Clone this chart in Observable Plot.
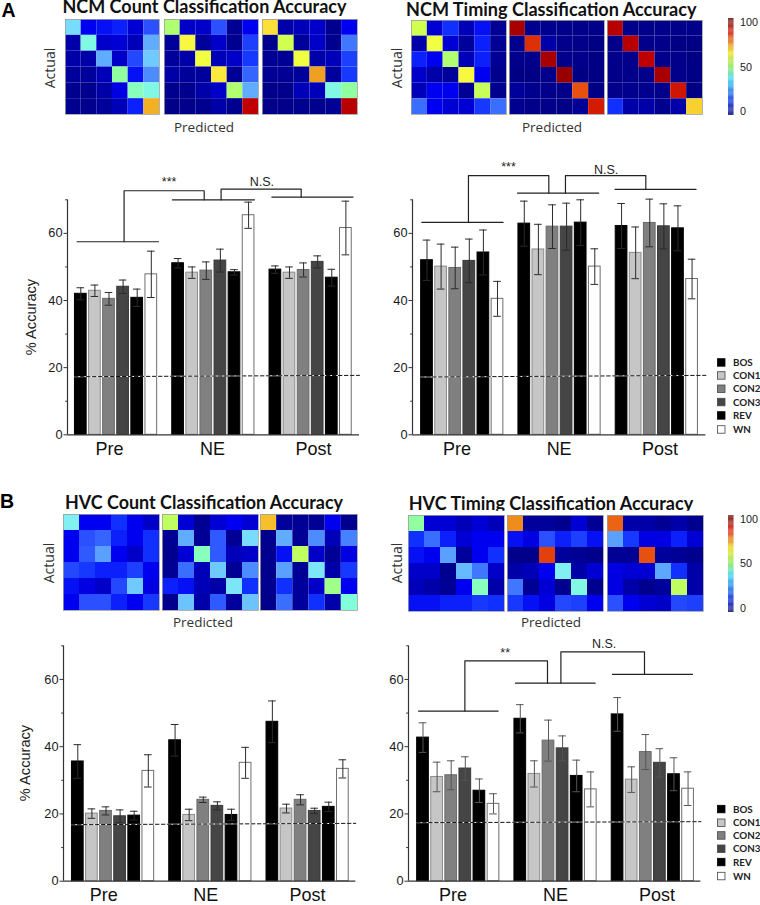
<!DOCTYPE html>
<html><head><meta charset="utf-8">
<script src="https://cdn.jsdelivr.net/npm/d3@7"></script>
<script src="https://cdn.jsdelivr.net/npm/@observablehq/plot@0.6"></script>
<style>
html,body{margin:0;padding:0;background:#fff;overflow:hidden}
#page{position:relative;width:760px;height:905px;overflow:hidden}
</style></head><body><div id="page"></div>
<script>
const groups = ["Pre","NE","Post"];
const conditions = ["BOS","CON1","CON2","CON3","REV","WN"];
const conditionFills = ["#000000","#c6c6c6","#808080","#454545","#000000","#ffffff"];
const conditionStrokes = ["#000000","#8a8a8a","#6a6a6a","#3a3a3a","#000000","#6e6e6e"];

const ncmCountMeans = [42.0,42.9,40.5,44.1,40.8,47.8, 51.1,48.3,48.9,51.9,48.4,65.4, 49.2,48.3,49.1,51.5,46.8,61.6];
const ncmCountErrs  = [1.8,1.7,1.9,2.0,2.6,6.9, 1.4,1.7,2.6,3.4,0.8,3.9, 1.1,1.7,2.1,1.8,2.5,8.0];
const ncmTimingMeans = [52.0,50.1,49.7,51.8,54.3,40.5, 62.9,55.2,62.0,62.0,63.2,50.1, 62.2,54.2,63.1,62.1,61.5,46.4];
const ncmTimingErrs  = [6.0,6.7,6.2,6.5,6.7,5.2, 6.7,7.5,6.5,7.0,6.8,5.3, 6.7,7.7,7.1,6.7,6.7,5.9];
const hvcCountMeans = [35.6,20.1,20.9,19.3,19.5,32.8, 41.9,19.7,24.2,22.4,19.7,35.2, 47.4,21.6,24.2,20.9,22.1,33.4];
const hvcCountErrs  = [5.0,1.4,1.2,1.9,1.3,4.8, 4.7,1.7,0.8,1.2,1.7,4.6, 6.2,1.3,1.5,0.8,1.4,2.7];
const hvcTimingMeans = [42.7,31.0,31.5,33.5,26.9,23.0, 48.3,31.9,41.8,39.5,31.3,27.3, 49.6,30.2,38.4,35.2,31.8,27.5];
const hvcTimingErrs  = [4.4,4.4,4.3,3.5,3.5,3.0, 4.2,3.9,6.1,3.7,4.7,5.2, 5.0,3.8,5.2,4.2,4.9,5.0];

// chance level (start, end)
const ncmCountChance = [17.3,17.7];
const ncmTimingChance = [17.2,17.7];
const hvcCountChance = [16.8,17.2];
const hvcTimingChance = [17.4,17.7];

// significance brackets, in bar-slot / % Accuracy units
const ncmCountBrackets = [[[-0.26,57.5],[5.51,57.5]],[[3.07,57.5],[3.07,72.7],[8.75,72.7],[8.75,70]],[[6.5,70],[12.32,70]],[[9.95,70],[9.95,73.2],[15.63,73.2],[15.63,70.8]],[[13.55,70.8],[19.31,70.8]]];
const ncmTimingBrackets = [[[-0.37,63.3],[5.4,63.3]],[[2.94,63.3],[2.94,77.2],[8.64,77.2],[8.64,72]],[[6.42,72],[12.18,72]],[[9.82,72],[9.82,77.2],[15.52,77.2],[15.52,73.1]],[[13.34,73.1],[19.08,73.1]]];
const hvcTimingBrackets = [[[-0.32,50.6],[5.33,50.6]],[[2.97,50.6],[2.97,65.5],[8.83,65.5],[8.83,58.9]],[[6.56,58.9],[12.21,58.9]],[[9.78,58.9],[9.78,68.2],[15.71,68.2],[15.71,61.5]],[[13.44,61.5],[19.11,61.5]]];
const ncmCountMarks = [{t:"***",x:6.26,y:75.2},{t:"N.S.",x:12.84,y:75.4}];
const ncmTimingMarks = [{t:"***",x:5.78,y:79.8},{t:"N.S.",x:12.7,y:78.8}];
const hvcTimingMarks = [{t:"**",x:5.83,y:67.8},{t:"N.S.",x:12.85,y:70.4}];

// confusion matrices (% of trials), actual rows x predicted columns
const ncmCountPre = [34,11,12,13,9,18, 6,40,8,9,7,28, 6,6,28,8,17,32, 5,5,7,46,12,24, 3,3,6,10,44,40, 3,3,5,7,13,70];
const ncmCountNE = [50,8,8,18,4,11, 5,60,5,8,3,16, 5,6,58,7,8,15, 6,5,5,63,4,20, 3,3,6,8,50,28, 2,2,3,6,3,92];
const ncmCountPost = [64,6,7,8,3,11, 3,54,5,8,3,22, 4,4,58,6,7,16, 4,4,5,72,5,15, 2,2,7,7,40,46, 2,2,3,3,4,93];
const ncmTimingPre = [54,9,14,7,12,4, 6,58,9,5,13,4, 13,11,50,7,13,4, 8,6,5,60,11,3, 7,11,11,4,53,3, 21,11,9,9,15,21];
const ncmTimingNE = [95,3,3,2,2,2, 3,84,6,2,2,1, 2,2,95,2,2,1, 1,1,2,97,1,1, 5,3,2,2,80,1, 3,2,2,1,4,87];
const ncmTimingPost = [93,2,2,2,2,2, 2,93,2,2,1,1, 2,2,92,2,2,1, 2,2,2,95,2,1, 2,3,3,2,88,1, 14,6,6,3,6,66];
const hvcCountPre = [38,11,11,14,11,8, 11,18,20,13,11,14, 11,19,26,11,8,14, 17,15,13,13,16,11, 12,10,8,17,32,10, 11,18,18,13,11,15];
const hvcCountNE = [52,9,4,9,11,9, 4,28,4,19,4,34, 3,9,44,19,7,8, 4,21,7,32,4,24, 13,12,7,6,36,14, 3,31,6,19,5,31];
const hvcCountPost = [68,5,4,4,11,3, 3,28,4,24,7,23, 3,12,52,8,4,10, 3,26,4,36,6,15, 3,14,5,8,48,11, 2,21,5,14,6,42];
const hvcTimingPre = [46,9,9,7,9,7, 14,21,13,9,11,11, 12,11,26,5,11,14, 8,8,3,30,22,8, 7,6,4,11,44,6, 12,12,13,13,15,14];
const hvcTimingNE = [74,5,5,3,9,4, 12,10,18,13,16,12, 2,2,82,5,4,2, 6,7,11,38,6,9, 22,4,9,3,40,3, 15,12,10,17,16,11];
const hvcTimingPost = [78,6,6,4,6,3, 26,15,10,10,13,9, 4,4,80,5,4,3, 10,9,9,27,14,6, 10,6,3,5,52,6, 18,11,9,8,17,16];

const colorStops = [0,5,8,11,14,18,22,26,30,34,38,42,46,50,54,58,62,66,72,80,86,92,100];
const colorRamp = ["#00007f","#00009a","#0000c8","#0000f0","#1030ff","#2a50ff","#3f78ff","#5aa0ff","#66baff","#78dcff","#80f0f0","#80ffd8","#90ffa0","#b0ff70","#d0ff50","#f0ff40","#fff040","#f8d030","#f0a020","#e85010","#d82000","#c00000","#800000"];
const colorbarStops = [-4,10,36,50,66,88,105];
const colorbarRamp = ["#1a1a80","#1030e0","#40d8f0","#90e860","#f0e020","#d82818","#701818"];
const colorbarTicks = [0,50,100];

const page = document.getElementById("page");
const place = (svg,left,top)=>{
  svg.style.position="absolute";svg.style.left=left+"px";svg.style.top=top+"px";
  svg.style.maxWidth="none";svg.style.overflow="visible";svg.style.background="transparent";
  page.appendChild(svg);
};
const heatColor = {type:"linear",domain:colorStops,range:colorRamp,clamp:true};

function heatmap(values,left,top,w,h){
  const cells = values.map((v,i)=>({v,c:i%6,r:Math.floor(i/6)}));
  place(Plot.plot({
    width:w,height:h,margin:0,
    x:{axis:null,padding:0,round:false,domain:d3.range(6)},
    y:{axis:null,padding:0,round:false,domain:d3.range(6)},
    color:heatColor,
    marks:[Plot.cell(cells,{x:"c",y:"r",fill:"v"}),Plot.frame({stroke:"#a0a0a0",strokeWidth:0.8})]
  }),left,top);
}
function colorbar(left,top,h,lo,hi){
  const steps = d3.range(-5,106).map(v=>({v}));
  place(Plot.plot({
    width:40,height:h,marginLeft:0,marginRight:34.5,marginTop:0,marginBottom:0,
    x:{axis:null,domain:[0,1]},
    y:{domain:[lo,hi],range:[h,0],clamp:true},
    color:{type:"linear",domain:colorbarStops,range:colorbarRamp,clamp:true},
    style:{fontFamily:"Liberation Sans",color:"#222"},
    marks:[
      Plot.rect(steps,{x1:0,x2:1,y1:"v",y2:d=>d.v+1,fill:"v"}),
      Plot.axisY({anchor:"right",ticks:colorbarTicks,tickSize:0,tickPadding:6,label:null,fontSize:10.8})
    ]
  }),left,top);
}
const slotOf = (g,i)=>g*6.9+i;
function barChart(cfg){
  const {means,errs,chance,brackets=[],notes=[],labelSlots,axisX,endX,firstCenter,y70,y0,svgTop,bottom,errColor="#2a2a2a"} = cfg;
  const rows = means.map((m,k)=>{
    const g=Math.floor(k/6),i=k%6;
    return {group:groups[g],cond:conditions[i],mean:m,err:errs[k],pos:slotOf(g,i),i};
  });
  const mL=50,mR=8,mT=y70-svgTop,mB=bottom;
  const plotW=endX-axisX;
  const d0=(axisX-firstCenter)/14.1, d1=(endX-firstCenter)/14.1;
  const segs=[];
  brackets.forEach((p,n)=>p.forEach(([x,y])=>segs.push({x,y,id:n})));
  const svg = Plot.plot({
    width:mL+plotW+mR,height:mT+(y0-y70)+mB,
    marginLeft:mL,marginRight:mR,marginTop:mT,marginBottom:mB,
    x:{domain:[d0,d1],axis:null},
    y:{domain:[0,70],axis:null},
    style:{fontFamily:"Liberation Sans",color:"#1a1a1a"},
    marks:[
      Plot.rect(rows,{x1:d=>d.pos-0.415,x2:d=>d.pos+0.415,y1:0,y2:"mean",fill:d=>conditionFills[d.i],stroke:d=>conditionStrokes[d.i],strokeWidth:1}),
      Plot.ruleX(rows,{x:"pos",y1:d=>d.mean-d.err,y2:d=>d.mean+d.err,stroke:errColor,strokeWidth:1}),
      Plot.ruleY(rows,{y:d=>d.mean+d.err,x1:d=>d.pos-0.27,x2:d=>d.pos+0.27,stroke:errColor,strokeWidth:1}),
      Plot.ruleY(rows,{y:d=>d.mean-d.err,x1:d=>d.pos-0.27,x2:d=>d.pos+0.27,stroke:errColor,strokeWidth:1}),
      Plot.line([{x:-0.45,y:chance[0]},{x:d1,y:chance[1]}],{x:"x",y:"y",stroke:"#fff",strokeWidth:1}),
      Plot.line([{x:-0.45,y:chance[0]},{x:d1,y:chance[1]}],{x:"x",y:"y",stroke:"#111",strokeWidth:1,strokeDasharray:"3.5,2.5"}),
      Plot.ruleY([0],{stroke:"#333",strokeWidth:1.2}),
      Plot.ruleX([d0],{y1:0,y2:70,stroke:"#333",strokeWidth:1.2}),
      Plot.axisY({ticks:[0,20,40,60],tickSize:3.5,tickPadding:1.5,label:null,fontSize:12.8,stroke:"#333"}),
      Plot.axisY({ticks:[10,30,50,70],tickSize:1.8,tickFormat:()=>"",label:null,stroke:"#333"}),
      Plot.line(segs,{x:"x",y:"y",z:"id",stroke:"#222",strokeWidth:1.2,curve:"linear"}),
      Plot.text(notes,{x:"x",y:"y",text:"t",fontSize:12.5,fill:"#222",lineAnchor:"middle"}),
      Plot.text(groups.map((g,n)=>({g,x:labelSlots[n]})),{x:"x",y:0,text:"g",fontSize:18,dy:14,lineAnchor:"middle",fill:"#111"})
    ]
  });
  place(svg,axisX-mL,svgTop);
}

barChart({means:ncmCountMeans,errs:ncmCountErrs,chance:ncmCountChance,brackets:ncmCountBrackets,notes:ncmCountMarks,labelSlots:[2.03,9.34,16.5],axisX:67,endX:359,firstCenter:80.3,y70:199.3,y0:434.3,svgTop:150,bottom:26});
barChart({means:ncmTimingMeans,errs:ncmTimingErrs,chance:ncmTimingChance,brackets:ncmTimingBrackets,notes:ncmTimingMarks,labelSlots:[2.12,9.37,16.53],axisX:412.3,endX:705.7,firstCenter:426.8,y70:199.3,y0:434.3,svgTop:150,bottom:26});
barChart({means:hvcCountMeans,errs:hvcCountErrs,chance:hvcCountChance,labelSlots:[1.84,9.07,16.3],axisX:62.7,endX:355,firstCenter:77,y70:645.3,y0:880.7,svgTop:630,bottom:24});
barChart({means:hvcTimingMeans,errs:hvcTimingErrs,chance:hvcTimingChance,brackets:hvcTimingBrackets,notes:hvcTimingMarks,labelSlots:[2.12,9.4,16.6],axisX:408.3,endX:700.7,firstCenter:422.8,y70:645.3,y0:880.7,svgTop:630,bottom:24,errColor:"#555"});

heatmap(ncmCountPre,65,19,94,95); heatmap(ncmCountNE,164,19,94,95); heatmap(ncmCountPost,262,19,95,95);
heatmap(ncmTimingPre,411,20,95,94); heatmap(ncmTimingNE,509,20,95,94); heatmap(ncmTimingPost,607,20,95,94);
heatmap(hvcCountPre,63,514,96,96); heatmap(hvcCountNE,162,514,96,96); heatmap(hvcCountPost,260,514,97,96);
heatmap(hvcTimingPre,408,515,96,96); heatmap(hvcTimingNE,507,515,96,96); heatmap(hvcTimingPost,607,515,96,96);
colorbar(728,18,97,-4.2,105);
colorbar(728,515,97,-5,104.5);

// text overlay: titles, panel letters, axis captions, legend
const overlay = d3.create("svg").attr("width",760).attr("height",905);
overlay.append("clipPath").attr("id","titleClip").append("rect").attr("x",380).attr("y",490).attr("width",380).attr("height",20.8);
const put=(t,x,y,o={})=>{
  const el=overlay.append("text").attr("x",x).attr("y",y).text(t)
    .attr("font-family",o.family||"Lato").attr("font-size",o.size||14).attr("font-weight",o.weight||400)
    .attr("fill",o.fill||"#2b2b2b").attr("text-anchor",o.anchor||"start");
  if(o.rot) el.attr("transform",`rotate(${o.rot} ${x} ${y})`);
  if(o.len) el.attr("textLength",o.len).attr("lengthAdjust","spacingAndGlyphs");
  if(o.clip) el.attr("clip-path",o.clip);
  return el;
};
const T={family:"Lato",weight:700,size:19,fill:"#111"};
put("NCM Count Classification Accuracy",62.5,13.2,{...T,len:284});
put("NCM Timing Classification Accuracy",406,15.7,{...T,len:290.5});
put("HVC Count Classification Accuracy",65,509.3,{...T,len:278});
put("HVC Timing Classification Accuracy",408.7,510,{...T,len:284.5,clip:"url(#titleClip)"});
const L={family:"Liberation Sans",weight:700,size:19.5,fill:"#000"};
put("A",1.5,16.5,L); put("B",0,508,L);
const A={family:"Open Sans",size:14,anchor:"middle",fill:"#333",rot:-90};
put("Actual",54.5,68,A); put("Actual",401.5,68,A); put("Actual",53.5,563,A); put("Actual",401.5,563,A);
const P={family:"Open Sans",size:13.5,anchor:"middle",fill:"#333"};
put("Predicted",204,131.5,P); put("Predicted",552,131.5,P); put("Predicted",203,626.5,P); put("Predicted",551,626.5,P);
const Y={family:"Liberation Sans",size:14.6,anchor:"middle",fill:"#222",rot:-90};
put("% Accuracy",35.5,317,Y); put("% Accuracy",30,763,Y);
function legend(ys){
  conditions.forEach((c,i)=>{
    overlay.append("rect").attr("x",717.5).attr("y",ys[i]-4).attr("width",7.5).attr("height",7.5)
      .attr("fill",conditionFills[i]).attr("stroke",i===0||i===4?"#000":"#444").attr("stroke-width",0.8);
    put(c,733,ys[i]+3.3,{family:"Lato",weight:700,size:9.8,fill:"#222"});
  });
}
legend([362.7,375.7,389,402.3,415.7,429.7]);
legend([809.3,823,835.7,849,862.3,876.3]);
place(overlay.node(),0,0);
overlay.style("pointer-events","none");
</script></body></html>
